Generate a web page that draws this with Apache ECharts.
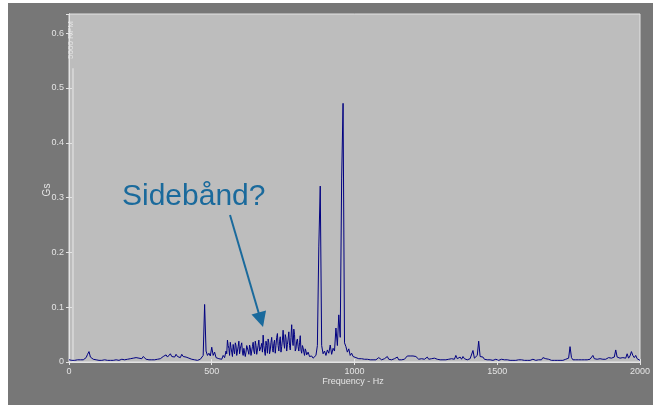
<!DOCTYPE html>
<html>
<head>
<meta charset="utf-8">
<script src="https://cdn.jsdelivr.net/npm/echarts@6/dist/echarts.min.js"></script>
<style>
  html, body { margin: 0; padding: 0; background: #ffffff; }
  #chart { width: 653px; height: 405px; }
</style>
</head>
<body>
<div id="chart"></div>
<script>
// Vibration spectrum, amplitude (Gs) sampled every 5 Hz from 0 to 2000 Hz.
const freqStartHz = 0;
const freqStepHz = 5;

const amp0000 = [0.004,0.003,0.003,0.004,0.003,0.003,0.004,0.003,0.004,0.005,0.004,0.005,0.008,0.014,0.019,0.009,0.006,0.005,0.004,0.004];
const amp0100 = [0.004,0.003,0.004,0.003,0.003,0.004,0.003,0.003,0.004,0.003,0.004,0.003,0.003,0.004,0.004,0.003,0.004,0.005,0.004,0.004];
const amp0200 = [0.004,0.005,0.004,0.006,0.005,0.007,0.006,0.008,0.011,0.007,0.009,0.006,0.010,0.007,0.005,0.006,0.004,0.005,0.004,0.005];
const amp0300 = [0.004,0.006,0.005,0.007,0.006,0.008,0.010,0.008,0.013,0.009,0.012,0.015,0.010,0.013,0.009,0.014,0.010,0.012,0.008,0.014];
const amp0400 = [0.010,0.007,0.009,0.006,0.007,0.005,0.005,0.004,0.004,0.004,0.003,0.004,0.005,0.007,0.012,0.105,0.020,0.012,0.016,0.011];
const amp0500 = [0.027,0.012,0.018,0.008,0.011,0.006,0.009,0.005,0.012,0.008,0.020,0.040,0.025,0.036,0.018,0.032,0.015,0.030,0.020,0.038];
const amp0600 = [0.024,0.035,0.012,0.028,0.018,0.033,0.014,0.026,0.020,0.036,0.015,0.030,0.022,0.040,0.017,0.034,0.049,0.020,0.038,0.016];
const amp0700 = [0.035,0.022,0.045,0.018,0.040,0.030,0.052,0.020,0.046,0.028,0.058,0.025,0.044,0.032,0.055,0.022,0.068,0.030,0.050,0.024];
const amp0800 = [0.042,0.020,0.048,0.016,0.026,0.012,0.020,0.010,0.014,0.008,0.011,0.007,0.009,0.012,0.030,0.210,0.321,0.030,0.015,0.020];
const amp0900 = [0.012,0.022,0.016,0.031,0.014,0.025,0.020,0.062,0.030,0.086,0.045,0.334,0.472,0.035,0.028,0.018,0.024,0.012,0.016,0.010];
const amp1000 = [0.013,0.008,0.011,0.006,0.009,0.006,0.008,0.005,0.006,0.005,0.007,0.004,0.005,0.004,0.006,0.004,0.005,0.008,0.005,0.004];
const amp1100 = [0.005,0.006,0.004,0.010,0.005,0.006,0.004,0.005,0.006,0.005,0.009,0.004,0.005,0.004,0.006,0.005,0.008,0.011,0.009,0.011];
const amp1200 = [0.010,0.011,0.008,0.010,0.007,0.005,0.008,0.006,0.009,0.005,0.006,0.009,0.005,0.008,0.006,0.005,0.007,0.004,0.005,0.004];
const amp1300 = [0.004,0.005,0.004,0.003,0.004,0.004,0.005,0.004,0.006,0.004,0.005,0.012,0.006,0.005,0.009,0.005,0.010,0.006,0.005,0.004];
const amp1400 = [0.005,0.006,0.009,0.021,0.007,0.006,0.012,0.038,0.010,0.007,0.009,0.005,0.006,0.004,0.005,0.004,0.006,0.003,0.004,0.005];
const amp1500 = [0.004,0.003,0.004,0.005,0.003,0.004,0.003,0.004,0.003,0.003,0.004,0.003,0.004,0.003,0.003,0.004,0.003,0.004,0.003,0.003];
const amp1600 = [0.004,0.003,0.004,0.003,0.004,0.005,0.004,0.003,0.005,0.004,0.006,0.004,0.008,0.005,0.006,0.004,0.005,0.004,0.003,0.004];
const amp1700 = [0.003,0.004,0.003,0.004,0.003,0.004,0.003,0.004,0.005,0.004,0.007,0.028,0.008,0.004,0.003,0.004,0.003,0.004,0.003,0.004];
const amp1800 = [0.003,0.004,0.005,0.004,0.006,0.005,0.007,0.012,0.006,0.004,0.005,0.004,0.006,0.004,0.005,0.007,0.005,0.006,0.008,0.011];
const amp1900 = [0.007,0.006,0.009,0.022,0.009,0.006,0.007,0.005,0.008,0.006,0.007,0.015,0.007,0.011,0.019,0.012,0.008,0.012,0.006,0.004,0.003];

// Extra in-between samples (every 5 Hz starting at 552.5 Hz) across the dense band
const midStartHz = 552.5;
const ampMid = [
  0.015,0.030,0.012,0.026,0.010,0.022,0.035,0.012,0.028,0.015,
  0.030,0.018,0.025,0.010,0.030,0.020,0.031,0.012,0.028,0.020,
  0.038,0.014,0.030,0.020,0.028,0.018,0.030,0.012,0.030,0.042,
  0.015,0.036,0.025,0.034,0.016,0.045,0.030,0.038,0.018,0.040,
  0.035,0.050,0.020,0.042,0.030,0.045,0.040,0.060,0.020,0.038,
  0.028,0.035,0.022,0.030,0.018,0.024,0.013,0.018,0.010,0.012
];

// Light trace near DC (left edge of the spectrum)
const dcFreqHz = [14, 14];
const dcAmp = [0, 0.536];

const xTicks = [0, 500, 1000, 1500, 2000];
const yTicks = [0, 0.1, 0.2, 0.3, 0.4, 0.5, 0.6];

const amplitude = [].concat(amp0000, amp0100, amp0200, amp0300, amp0400, amp0500, amp0600,
  amp0700, amp0800, amp0900, amp1000, amp1100, amp1200, amp1300, amp1400, amp1500,
  amp1600, amp1700, amp1800, amp1900);
const spectrum = amplitude.map((v, i) => [freqStartHz + i * freqStepHz, v])
  .concat(ampMid.map((v, i) => [midStartHz + i * freqStepHz, v]))
  .sort((a, b) => a[0] - b[0]);
const dcTrace = dcFreqHz.map((f, i) => [f, dcAmp[i]]);

const light = '#e4e4e4';
const font = '"Liberation Sans", Arial, sans-serif';
const annot = '#1a6a9c';

const chart = echarts.init(document.getElementById('chart'), null, { renderer: 'canvas' });

const baseX = {
  type: 'value', min: 0, max: 2000, interval: 500,
  axisLine: { show: true, lineStyle: { color: light, width: 1 } },
  axisTick: { show: true, inside: true, length: 3, lineStyle: { color: light } },
  splitLine: { show: false }
};
const baseY = {
  type: 'value', min: 0, max: 0.635, interval: 0.1,
  axisLine: { show: true, lineStyle: { color: light, width: 1 } },
  axisTick: { show: true, inside: true, length: 3, lineStyle: { color: light } },
  splitLine: { show: false }
};

chart.setOption({
  animation: false,
  backgroundColor: '#ffffff',
  grid: {
    left: 69, right: 13, top: 14, bottom: 43,
    show: true, backgroundColor: '#bdbdbd', borderColor: light, borderWidth: 1
  },
  xAxis: [
    Object.assign({}, baseX, {
      position: 'bottom',
      axisLabel: {
        color: light, fontSize: 9, fontFamily: font, margin: 5,
        formatter: v => (xTicks.includes(v) ? String(v) : '')
      }
    }),
    Object.assign({}, baseX, { position: 'top', axisLabel: { show: false } })
  ],
  yAxis: [
    Object.assign({}, baseY, {
      position: 'left',
      axisLabel: {
        color: light, fontSize: 9, fontFamily: font, margin: 5, showMaxLabel: false,
        formatter: v => {
          const hit = yTicks.find(t => Math.abs(t - v) < 1e-9);
          return hit === undefined ? '' : String(hit);
        }
      }
    }),
    Object.assign({}, baseY, { position: 'right', axisLabel: { show: false } })
  ],
  graphic: [
    // dark frame around the plot
    { type: 'rect', z: -10, silent: true, shape: { x: 8, y: 3, width: 645, height: 402 },
      style: { fill: '#777777' } },
    { type: 'text', x: 71, y: 40, rotation: Math.PI / 2, z: 10,
      style: { text: '5000 RPM', fill: light, font: '8px ' + font, textAlign: 'center', textVerticalAlign: 'middle' } },
    { type: 'text', x: 47, y: 190, rotation: Math.PI / 2, z: 10,
      style: { text: 'Gs', fill: light, font: '10px ' + font, textAlign: 'center', textVerticalAlign: 'middle' } },
    { type: 'text', x: 353, y: 382, z: 10,
      style: { text: 'Frequency - Hz', fill: light, font: '9px ' + font, textAlign: 'center', textVerticalAlign: 'middle' } },
    { type: 'text', x: 122, y: 197, z: 20,
      style: { text: 'Sidebånd?', fill: annot, font: '30px ' + font, textAlign: 'left', textVerticalAlign: 'middle' } },
    { type: 'line', z: 20, shape: { x1: 230, y1: 215, x2: 259, y2: 314 },
      style: { stroke: annot, lineWidth: 2 } },
    { type: 'polygon', z: 20, shape: { points: [[263, 327], [251.5, 314.5], [266, 310.5]] },
      style: { fill: annot } }
  ],
  series: [
    {
      type: 'line', xAxisIndex: 0, yAxisIndex: 0, data: dcTrace,
      showSymbol: false, silent: true, lineStyle: { color: '#e8e8e8', width: 1 }
    },
    {
      type: 'line', xAxisIndex: 0, yAxisIndex: 0, data: spectrum,
      showSymbol: false, silent: true, sampling: null,
      lineStyle: { color: '#000080', width: 1 }
    }
  ]
});
</script>
</body>
</html>
